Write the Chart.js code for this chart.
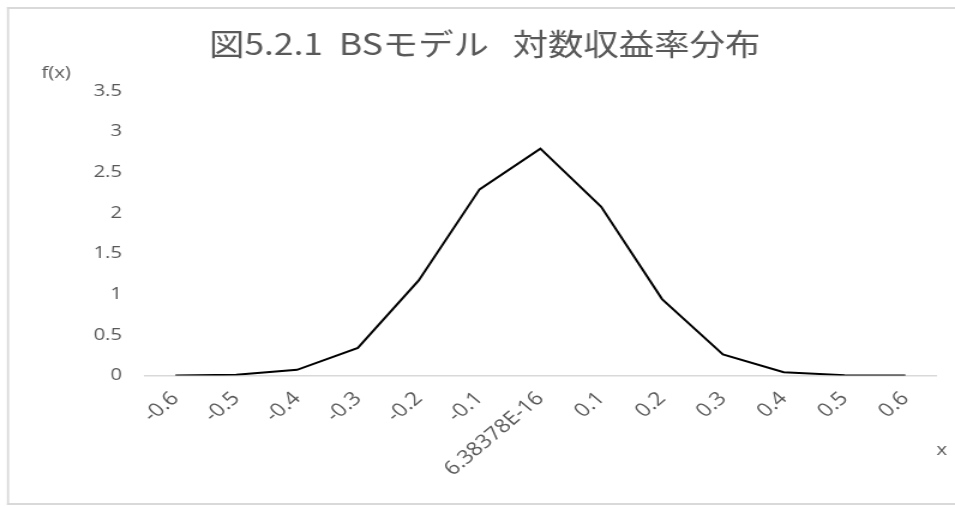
<!DOCTYPE html>
<html>
<head>
<meta charset="utf-8">
<script src="https://cdn.jsdelivr.net/npm/chart.js@4/dist/chart.umd.min.js"></script>
<style>
  html, body { margin: 0; padding: 0; background: #fff; overflow: hidden; }
  /* the chart is drawn narrow and widened horizontally */
  #wrap { width: 796px; height: 506px; transform: scaleX(1.19975); transform-origin: 0 0; }
  canvas { display: block; }
</style>
</head>
<body>
<div id="wrap"><canvas id="c" width="796" height="506"></canvas></div>
<script>
// x values (log return) as shown on the category axis
const categories = ['-0.6', '-0.5', '-0.4', '-0.3', '-0.2', '-0.1', '6.38378E-16',
                    '0.1', '0.2', '0.3', '0.4', '0.5', '0.6'];
// density f(x) at each x
const density = [0.0003, 0.008, 0.07, 0.34, 1.17, 2.29, 2.79,
                 2.075, 0.94, 0.26, 0.04, 0.004, 0.0002];
// y axis ticks and their labels
const yTicks = [0, 0.5, 1, 1.5, 2, 2.5, 3, 3.5];
const yTickLabels = ['0', '0.5', '1', '1.5', '2', '2.5', '3', '3.5'];

const titleText = '図5.2.1  BSモデル   対数収益率分布';
const yLabel = 'f(x)';
const xLabel = 'x';

const textColor = '#595959';
const frameColor = '#d9d9d9';

const decor = {
  id: 'decor',
  beforeDraw(chart) {
    const { ctx, width } = chart;
    ctx.save();
    ctx.fillStyle = '#fff';
    ctx.fillRect(0, 0, width, chart.height);
    ctx.strokeStyle = frameColor;
    ctx.lineWidth = 2;
    ctx.beginPath();
    ctx.moveTo(width + 5, 8);
    ctx.lineTo(5.8, 8);
    ctx.moveTo(5.8, 504);
    ctx.lineTo(width + 5, 504);
    ctx.stroke();
    ctx.lineWidth = 1.7;
    ctx.beginPath();
    ctx.moveTo(6.7, 7);
    ctx.lineTo(6.7, 505);
    ctx.stroke();
    ctx.restore();
  },
  afterDraw(chart) {
    const { ctx, chartArea } = chart;
    ctx.save();
    ctx.fillStyle = textColor;
    ctx.font = '17px "Open Sans", "Noto Sans"';
    ctx.textBaseline = 'middle';
    ctx.textAlign = 'center';
    ctx.fillText(yLabel, chartArea.left - 74, chartArea.top - 18);
    ctx.fillText(xLabel, chartArea.right + 5, chartArea.bottom + 75);
    ctx.restore();
  }
};

new Chart(document.getElementById('c'), {
  type: 'line',
  data: {
    labels: categories,
    datasets: [{
      data: density,
      borderColor: '#000',
      borderWidth: 2,
      pointRadius: 0,
      pointHoverRadius: 0,
      tension: 0,
      fill: false
    }]
  },
  options: {
    responsive: false,
    devicePixelRatio: 1,
    animation: false,
    events: [],
    layout: { padding: { left: 28, right: 16, top: 0, bottom: 0 } },
    plugins: {
      legend: { display: false },
      tooltip: { enabled: false },
      title: {
        display: true,
        text: titleText,
        color: textColor,
        font: { family: '"Noto Sans CJK JP"', size: 29.5, weight: 'normal', lineHeight: 1.2 },
        padding: { top: 26.3, bottom: 29.3 }
      }
    },
    scales: {
      x: {
        type: 'category',
        offset: true,
        grid: { display: false, drawTicks: false },
        border: { display: true, color: frameColor, width: 1.5 },
        ticks: {
          color: textColor,
          font: { family: '"Open Sans", "Noto Sans"', size: 19 },
          autoSkip: false,
          minRotation: 45,
          maxRotation: 45,
          padding: 12
        },
        afterFit(scale) { scale.height = 130.5; }
      },
      y: {
        min: 0,
        max: 3.5,
        grid: { display: false, drawTicks: false },
        border: { display: false },
        ticks: {
          color: textColor,
          font: { family: '"Open Sans", "Noto Sans"', size: 17 },
          padding: 19,
          callback: (value) => yTickLabels[yTicks.indexOf(value)]
        },
        afterBuildTicks(scale) { scale.ticks = yTicks.map(v => ({ value: v })); },
        afterFit(scale) { scale.width = 92.8; }
      }
    }
  },
  plugins: [decor]
});
</script>
</body>
</html>
